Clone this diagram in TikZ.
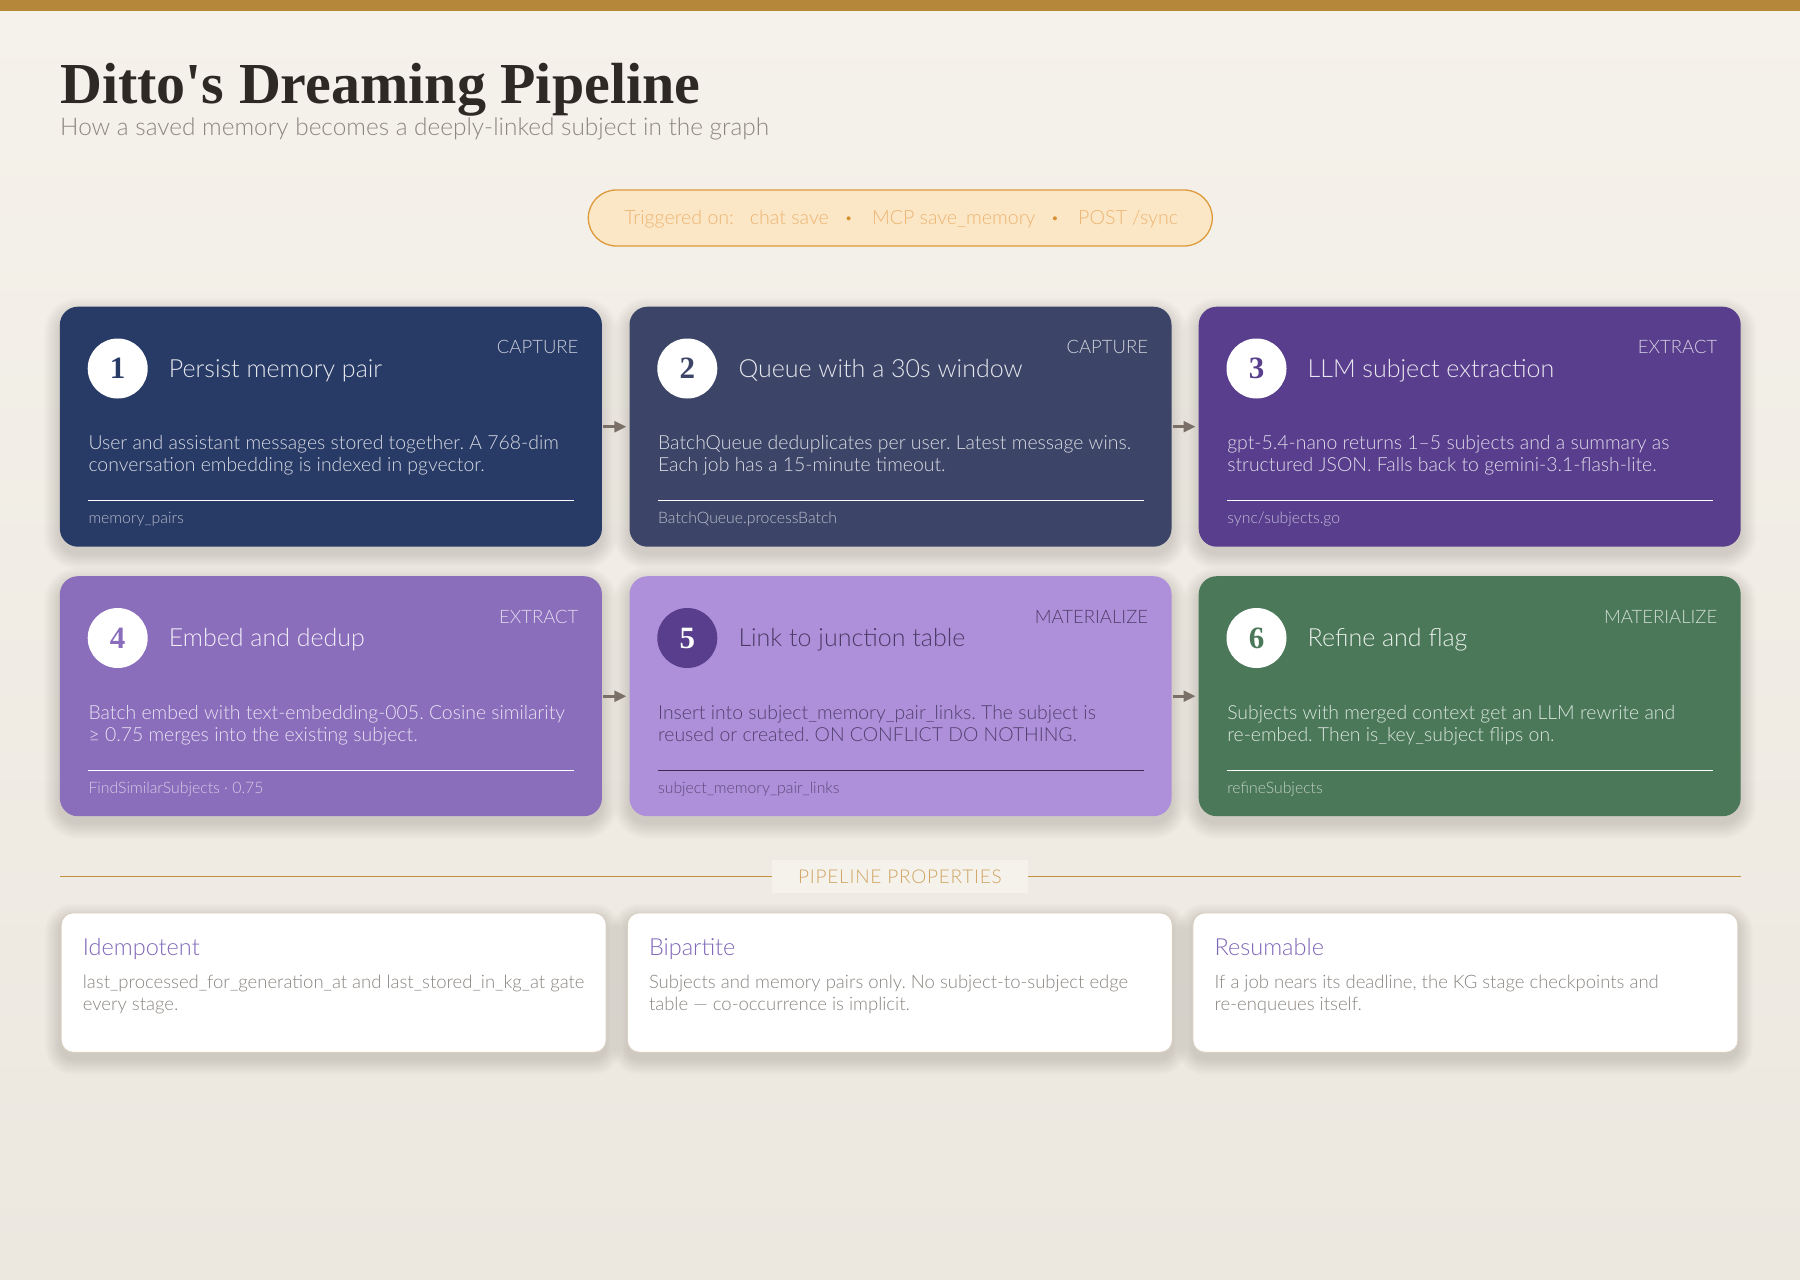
\documentclass[tikz,border=0pt]{standalone}
\usepackage{fontspec}
\setmainfont{Lato Light}
\newfontfamily\ttl{Liberation Serif}
\usetikzlibrary{calc,arrows.meta}
\frenchspacing
\definecolor{bgtop}{HTML}{F5F2EB}
\definecolor{bgbot}{HTML}{ECE7DF}
\definecolor{topbar}{HTML}{B5873A}
\definecolor{titlec}{HTML}{2E2924}
\definecolor{subc}{HTML}{8C8680}
\definecolor{pillfill}{HTML}{FBE7C6}
\definecolor{pillline}{HTML}{DD9A3A}
\definecolor{pilltext}{HTML}{EDB473}
\definecolor{pilldotc}{HTML}{D8902E}
\definecolor{cA}{HTML}{283A66}
\definecolor{cB}{HTML}{3C4568}
\definecolor{cC}{HTML}{583E8C}
\definecolor{cD}{HTML}{8A6DBB}
\definecolor{cE}{HTML}{AE90DA}
\definecolor{cF}{HTML}{4A7858}
\definecolor{darkt}{HTML}{3A2C52}
\definecolor{arrowc}{HTML}{7A7068}
\definecolor{goldline}{HTML}{C09040}
\definecolor{goldtext}{HTML}{D0A463}
\definecolor{labelbg}{HTML}{F5F2EB}
\definecolor{propborder}{HTML}{D9D0C2}
\definecolor{proptitle}{HTML}{7F66B8}
\definecolor{propdesc}{HTML}{8A8580}
\definecolor{shadowc}{HTML}{3A3020}
\newcommand\pxsize[1]{\fontsize{#1}{#1}\selectfont}
\tikzset{
  card/.style={rectangle, rounded corners=18pt, minimum width=542pt, minimum height=240pt,
    anchor=north west, inner sep=0pt, draw=none},
  numcirc/.style={circle, fill=white, minimum size=60pt, inner sep=0pt, text=#1,
    font=\ttl\bfseries\pxsize{31}},
  cardtitle/.style={anchor=base west, inner sep=0pt, text=white, text opacity=0.88, font=\pxsize{25}},
  cardtag/.style={anchor=base east, inner sep=0pt, text=white, text opacity=0.75, font=\pxsize{18.5}},
  carddesc/.style={anchor=base west, inner sep=0pt, text=white, text opacity=0.82, font=\pxsize{19.4}},
  cardfoot/.style={anchor=base west, inner sep=0pt, text=white, text opacity=0.65, font=\pxsize{15.8}},
  cardrule/.style={draw=white, line width=1.2pt},
  flow/.style={draw=arrowc, line width=2.6pt, -{Triangle[length=12pt,width=11pt]},
    shorten >=3pt, shorten <=1pt},
  pilltxt/.style={anchor=base west, inner sep=0pt, text=pilltext, font=\pxsize{19.6}},
  pilldot/.style={circle, fill=pilldotc, inner sep=0pt, minimum size=4pt},
  propcard/.style={rectangle, rounded corners=12pt, minimum width=545pt, minimum height=139.5pt,
    anchor=north west, inner sep=0pt, fill=white, draw=propborder, line width=1pt},
  proptitle/.style={anchor=base west, inner sep=0pt, text=proptitle, font=\pxsize{23.5}},
  propdesc/.style={anchor=base west, inner sep=0pt, text=propdesc, font=\pxsize{18.5}},
}
% soft shadow: #1 north-west corner, #2 width, #3 height, #4 corner radius
\newcommand\softshadow[4]{%
  \foreach \s in {1,2,...,16}{%
    \pgfmathsetmacro\rr{#4+\s}%
    \fill[shadowc, opacity=0.0065, rounded corners=\rr pt] ($(#1)+(-\s,{7-\s})$) rectangle ($(#1)+({#2+\s},{#3+7+\s})$);
  }}
% #1 name, #2 position, #3 colour, #4 number, #5 title, #6 tag, #7 line 1, #8 line 2, #9 footer
\newcommand\stagecard[9]{%
  \softshadow{#2}{542}{240}{18}
  \node[card, fill=#3] (#1) at (#2) {};
  \node[numcirc=#3] (#1n) at ($(#1.north west)+(58,62)$) {#4};
  \node[cardtitle] (#1t) at ($(#1.north west)+(109,70.5)$) {#5};
  \node[cardtag] (#1g) at ($(#1.north east)+(-23.5,47.3)$) {#6};
  \node[carddesc] (#1a) at ($(#1.north west)+(28.6,143)$) {#7};
  \node[carddesc] (#1b) at ($(#1.north west)+(28.6,165.4)$) {#8};
  \coordinate (#1r1) at ($(#1.north west)+(28.6,194.2)$);
  \coordinate (#1r2) at ($(#1.north east)+(-28.2,194.2)$);
  \draw[cardrule] (#1r1) -- (#1r2);
  \node[cardfoot] (#1f) at ($(#1.north west)+(28.6,217)$) {#9};
}
\begin{document}
\begin{tikzpicture}[x=1pt, y=-1pt]
\useasboundingbox (0,0) rectangle (1800,1280);
\shade[top color=bgtop, bottom color=bgbot] (0,0) rectangle (1800,1280);
\fill[topbar] (0,0) rectangle (1800,11);

% title
\node[anchor=base west, inner sep=0pt, text=titlec, font=\ttl\bfseries\pxsize{58}] (title) at (60,103) {Ditto's Dreaming Pipeline};
\node[anchor=base west, inner sep=0pt, text=subc, font=\pxsize{24.4}] (subtitle) at (60,135) {How a saved memory becomes a deeply-linked subject in the graph};

% trigger pill
\node[rectangle, rounded corners=28pt, minimum width=624pt, minimum height=56pt, inner sep=0pt,
  fill=pillfill, draw=pillline, line width=1.3pt] (pill) at (900.3,218) {};
\node[pilltxt] (tr0) at (624.2,224.5) {Triggered on:};
\node[pilltxt] (tr1) at (749.7,224.5) {chat save};
\node[pilldot] (d1) at (848.6,218.3) {};
\node[pilltxt] (tr2) at (871.8,224.5) {MCP save\_memory};
\node[pilldot] (d2) at (1054.9,218.3) {};
\node[pilltxt] (tr3) at (1078,224.5) {POST /sync};

% stage cards
\stagecard{s1}{59.7,306.5}{cA}{1}{Persist memory pair}{CAPTURE}
  {User and assistant messages stored together. A 768-dim}
  {conversation embedding is indexed in pgvector.}{memory\_pairs}
\stagecard{s2}{629.3,306.5}{cB}{2}{Queue with a 30s window}{CAPTURE}
  {BatchQueue deduplicates per user. Latest message wins.}
  {Each job has a 15-minute timeout.}{BatchQueue.processBatch}
\stagecard{s3}{1198.5,306.5}{cC}{3}{LLM subject extraction}{EXTRACT}
  {gpt-5.4-nano returns 1–5 subjects and a summary as}
  {structured JSON. Falls back to gemini-3.1-flash-lite.}{sync/subjects.go}
\stagecard{s4}{59.7,576}{cD}{4}{Embed and dedup}{EXTRACT}
  {Batch embed with text-embedding-005. Cosine similarity}
  {≥ 0.75 merges into the existing subject.}{FindSimilarSubjects · 0.75}
\begin{scope}[
  numcirc/.style={circle, fill=cC, minimum size=60pt, inner sep=0pt, text=white, font=\ttl\bfseries\pxsize{31}},
  cardtitle/.append style={text=darkt, text opacity=0.85},
  cardtag/.append style={text=darkt, text opacity=0.8},
  carddesc/.append style={text=darkt, text opacity=0.8},
  cardfoot/.append style={text=darkt, text opacity=0.7},
  cardrule/.style={draw=darkt, line width=1.2pt}]
\stagecard{s5}{629.3,576}{cE}{5}{Link to junction table}{MATERIALIZE}
  {Insert into subject\_memory\_pair\_links. The subject is}
  {reused or created. ON CONFLICT DO NOTHING.}{subject\_memory\_pair\_links}
\end{scope}
\stagecard{s6}{1198.5,576}{cF}{6}{Refine and flag}{MATERIALIZE}
  {Subjects with merged context get an LLM rewrite and}
  {re-embed. Then is\_key\_subject flips on.}{refineSubjects}

% connectors
\draw[flow] (s1.east) -- (s2.west);
\draw[flow] (s2.east) -- (s3.west);
\draw[flow] (s4.east) -- (s5.west);
\draw[flow] (s5.east) -- (s6.west);

% pipeline properties divider
\coordinate (divl) at (60,876.3);
\coordinate (divr) at (1741,876.3);
\draw[goldline, line width=1.1pt] (divl) -- (divr);
\node[rectangle, fill=labelbg, minimum width=256pt, minimum height=33pt, inner sep=0pt] (proplabelbg) at (900,876.5) {};
\node[inner sep=0pt, text=goldtext, font=\pxsize{19}\addfontfeatures{LetterSpace=4}] (proplabel) at (900,876.5) {PIPELINE PROPERTIES};

% property cards
\softshadow{60.7,912.3}{545}{139.5}{12}
\node[propcard] (p1) at (60.7,912.3) {};
\node[proptitle] (p1t) at ($(p1.north west)+(22,42.7)$) {Idempotent};
\node[propdesc] (p1a) at ($(p1.north west)+(22,75.7)$) {last\_processed\_for\_generation\_at and last\_stored\_in\_kg\_at gate};
\node[propdesc] (p1b) at ($(p1.north west)+(22,97.7)$) {every stage.};

\softshadow{626.8,912.3}{545}{139.5}{12}
\node[propcard] (p2) at (626.8,912.3) {};
\node[proptitle] (p2t) at ($(p2.north west)+(22,42.7)$) {Bipartite};
\node[propdesc] (p2a) at ($(p2.north west)+(22,75.7)$) {Subjects and memory pairs only. No subject-to-subject edge};
\node[propdesc] (p2b) at ($(p2.north west)+(22,97.7)$) {table — co-occurrence is implicit.};

\softshadow{1192.4,912.3}{545}{139.5}{12}
\node[propcard] (p3) at (1192.4,912.3) {};
\node[proptitle] (p3t) at ($(p3.north west)+(22,42.7)$) {Resumable};
\node[propdesc] (p3a) at ($(p3.north west)+(22,75.7)$) {If a job nears its deadline, the KG stage checkpoints and};
\node[propdesc] (p3b) at ($(p3.north west)+(22,97.7)$) {re-enqueues itself.};
\end{tikzpicture}
\end{document}
